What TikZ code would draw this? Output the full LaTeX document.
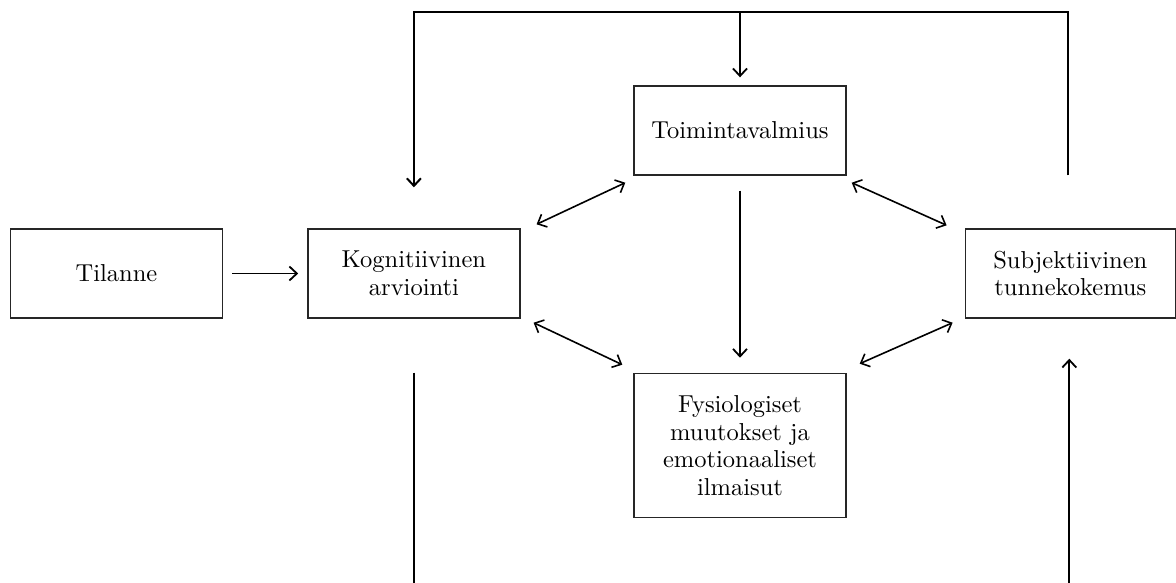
\documentclass[tikz,border=0pt]{standalone}
\usepackage{fontspec}
\setmainfont{lmroman10-regular}[Extension=.otf]
\usepackage{xcolor}
\usepackage{tikz}
\usetikzlibrary{arrows.meta, positioning}
\tikzstyle{box} = [rectangle, minimum width=212pt, minimum height=89pt, inner sep=0pt, text centered, align=center, draw=black!85, line width=1.4pt, font=\fontsize{24.5}{27.5}\selectfont]
\tikzstyle{line} = [line width=1.8pt]
\tikzstyle{arrow} = [line width=1.8pt, -{Straight Barb[length=7.5pt,width=14pt]}]
\tikzstyle{dblarrow} = [line width=1.6pt, {Straight Barb[length=7.5pt,width=14pt]}-{Straight Barb[length=7.5pt,width=14pt]}]

\begin{document}
\begin{tikzpicture}[x=1pt, y=-1pt]
    \useasboundingbox (0,0) rectangle (1176,583);
    \node (tilanne) [box] at (116.5,273.5) {Tilanne};
    \node (kog) [box, right=84pt of tilanne] {Kognitiivinen\\arviointi};
    \node (toim) [box] at (740,130.5) {Toimintavalmius};
    \node (fys) [box, minimum height=144pt, below=197pt of toim] {Fysiologiset\\muutokset ja\\emotionaaliset\\ilmaisut};
    \node (subj) [box, minimum width=210pt, right=444pt of kog] {Subjektiivinen\\tunnekokemus};
    \coordinate (fbtop) at ([yshift=73pt]toim.north);
    \coordinate (fbbot) at (740,583);

    \draw[arrow, shorten <=9pt, shorten >=9pt] (tilanne) -- (kog);
    \draw[arrow, shorten <=15pt, shorten >=15pt] (toim.south) -- (fys.north);
    \draw[dblarrow] ([shift={(16,-4)}]kog.north east) -- ([shift={(-8,7)}]toim.south west);
    \draw[dblarrow] ([shift={(13,4)}]kog.south east) -- ([shift={(-11,-8)}]fys.north west);
    \draw[dblarrow] ([shift={(5,7)}]toim.south east) -- ([shift={(-18,-3)}]subj.north west);
    \draw[dblarrow] ([shift={(13,-9)}]fys.north east) -- ([shift={(-12,4)}]subj.south west);

    % feedback loop over the top
    \draw[arrow, line width=2pt] ([xshift=-2pt,yshift=53pt]subj.north) -- ([xshift=-2pt]subj.north |- fbtop) -- (kog.north |- fbtop) -- ([yshift=41pt]kog.north);
    \draw[arrow] (fbtop) -- ([yshift=8pt]toim.north);

    % feedback loop under the bottom
    \draw[line] ([yshift=-54pt]kog.south) -- (kog.south |- fbbot);
    \draw[arrow] ([xshift=-1pt]subj.south |- fbbot) -- ([xshift=-1pt,yshift=-40pt]subj.south);
\end{tikzpicture}
\end{document}
